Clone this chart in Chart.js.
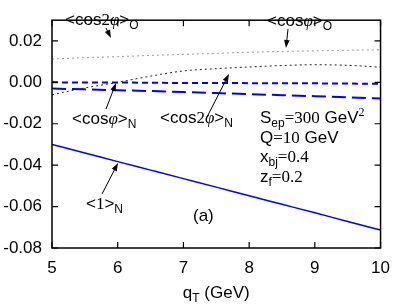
<!DOCTYPE html>
<html>
<head>
<meta charset="utf-8">
<script src="https://cdn.jsdelivr.net/npm/chart.js@4"></script>
<style>
  html, body { margin: 0; padding: 0; background: #fff; }
  #wrap { width: 400px; height: 304px; }
</style>
</head>
<body>
<div id="wrap"><canvas id="c"></canvas></div>
<script>
// q_T values (GeV) and the curves
const qT = [5, 5.5, 6, 6.5, 7, 7.5, 8, 8.5, 9, 9.5, 10];
const one_N     = [-0.0300, -0.0341, -0.0383, -0.0424, -0.0465, -0.0506, -0.0548, -0.0589, -0.0630, -0.0672, -0.0713];
const cos2phi_N = [-0.0030, -0.0034, -0.0038, -0.0042, -0.0047, -0.0052, -0.0057, -0.0062, -0.0067, -0.0072, -0.0078];
const cosphi_N  = [0.0000, -0.0001, -0.0001, -0.0002, -0.0003, -0.0003, -0.0004, -0.0005, -0.0005, -0.0006, -0.0007];
const cos2phi_O = [0.0113, 0.0119, 0.0124, 0.0130, 0.0135, 0.0140, 0.0145, 0.0149, 0.0152, 0.0155, 0.0157];
const cosphi_O  = [-0.0060, -0.0027, 0.0000, 0.0030, 0.0055, 0.0066, 0.0074, 0.0081, 0.0085, 0.0082, 0.0073];

const xTicks = [5, 6, 7, 8, 9, 10];
const yTicks = [-0.08, -0.06, -0.04, -0.02, 0.00, 0.02];

const SANS = 'Liberation Sans, Arial, sans-serif';
const SERIF = 'Liberation Serif, Times New Roman, serif';

const pts = ys => qT.map((x, i) => ({ x: x, y: ys[i] }));

// draw a run of text pieces, left to right from (x, y baseline)
function rich(ctx, x, y, segs) {
  segs.forEach(s => {
    const size = s.sub || s.sup ? 12 : 17;
    ctx.font = (s.it ? 'italic ' : '') + size + 'px ' + (s.serif ? SERIF : SANS);
    const dy = s.sub ? 4 : (s.sup ? -7 : 0);
    ctx.fillText(s.t, x, y + dy);
    x += ctx.measureText(s.t).width;
  });
  return x;
}
function richWidth(ctx, segs) {
  let w = 0;
  segs.forEach(s => {
    const size = s.sub || s.sup ? 12 : 17;
    ctx.font = (s.it ? 'italic ' : '') + size + 'px ' + (s.serif ? SERIF : SANS);
    w += ctx.measureText(s.t).width;
  });
  return w;
}

function arrow(ctx, x1, y1, x2, y2) {
  const a = Math.atan2(y2 - y1, x2 - x1);
  ctx.beginPath();
  ctx.moveTo(x1, y1);
  ctx.lineTo(x2 - 5 * Math.cos(a), y2 - 5 * Math.sin(a));
  ctx.stroke();
  ctx.beginPath();
  ctx.moveTo(x2, y2);
  ctx.lineTo(x2 - 8 * Math.cos(a) + 2.8 * Math.sin(a), y2 - 8 * Math.sin(a) - 2.8 * Math.cos(a));
  ctx.lineTo(x2 - 8 * Math.cos(a) - 2.8 * Math.sin(a), y2 - 8 * Math.sin(a) + 2.8 * Math.cos(a));
  ctx.closePath();
  ctx.fill();
}

const frame = {
  id: 'frame',
  afterDraw(chart) {
    const ctx = chart.ctx, a = chart.chartArea;
    const xs = chart.scales.x, ys = chart.scales.y;
    ctx.save();
    ctx.strokeStyle = '#000';
    ctx.fillStyle = '#000';
    ctx.lineWidth = 1.5;
    ctx.strokeRect(a.left, a.top, a.right - a.left, a.bottom - a.top);
    ctx.lineWidth = 1.2;
    ctx.beginPath();
    xTicks.forEach(v => {
      const px = xs.getPixelForValue(v);
      ctx.moveTo(px, a.bottom); ctx.lineTo(px, a.bottom - 6);
      ctx.moveTo(px, a.top); ctx.lineTo(px, a.top + 6);
    });
    yTicks.forEach(v => {
      const py = ys.getPixelForValue(v);
      ctx.moveTo(a.left, py); ctx.lineTo(a.left + 6, py);
      ctx.moveTo(a.right, py); ctx.lineTo(a.right - 6, py);
    });
    ctx.stroke();

    ctx.textBaseline = 'alphabetic';
    ctx.textAlign = 'left';
    // curve labels
    rich(ctx, 65, 25, [{t: '<cos'}, {t: '2', serif: true}, {t: 'φ', serif: true, it: true}, {t: '>'}, {t: 'O', sub: true}]);
    rich(ctx, 267, 26, [{t: '<cos'}, {t: 'φ', serif: true, it: true}, {t: '>'}, {t: 'O', sub: true}]);
    rich(ctx, 72, 124, [{t: '<cos'}, {t: 'φ', serif: true, it: true}, {t: '>'}, {t: 'N', sub: true}]);
    rich(ctx, 160, 123, [{t: '<cos'}, {t: '2', serif: true}, {t: 'φ', serif: true, it: true}, {t: '>'}, {t: 'N', sub: true}]);
    rich(ctx, 86, 209, [{t: '<'}, {t: '1', serif: true}, {t: '>'}, {t: 'N', sub: true}]);
    rich(ctx, 193, 221, [{t: '(a)'}]);

    // kinematics
    rich(ctx, 260, 123, [{t: 'S'}, {t: 'ep', sub: true}, {t: '=300', serif: true}, {t: ' GeV'}, {t: '2', sup: true, serif: true}]);
    rich(ctx, 260, 143, [{t: 'Q'}, {t: '=10', serif: true}, {t: ' GeV'}]);
    rich(ctx, 260, 162, [{t: 'x'}, {t: 'bj', sub: true}, {t: '=0.4', serif: true}]);
    rich(ctx, 260, 182, [{t: 'z'}, {t: 'f', sub: true}, {t: '=0.2', serif: true}]);

    // x axis title
    const title = [{t: 'q'}, {t: 'T', sub: true}, {t: ' (GeV)'}];
    const cx = (a.left + a.right) / 2;
    rich(ctx, cx - richWidth(ctx, title) / 2, 298, title);

    // arrows
    ctx.lineWidth = 1;
    arrow(ctx, 106, 28, 111, 38);
    arrow(ctx, 288, 29, 286, 48);
    arrow(ctx, 106, 109, 116, 83);
    arrow(ctx, 207, 117, 229, 74);
    arrow(ctx, 102, 194, 118, 163);
    ctx.restore();
  }
};

new Chart(document.getElementById('c'), {
  type: 'line',
  data: {
    datasets: [
      { data: pts(one_N), borderColor: '#0000ff', borderWidth: 1.5 },
      { data: pts(cos2phi_N), borderColor: '#0000ff', borderWidth: 2, borderDash: [14, 6] },
      { data: pts(cosphi_N), borderColor: '#0000ff', borderWidth: 2, borderDash: [6, 4] },
      { data: pts(cos2phi_O), borderColor: '#999999', borderWidth: 1, borderDash: [2, 3] },
      { data: pts(cosphi_O), borderColor: '#222222', borderWidth: 1, borderDash: [2, 3] }
    ]
  },
  options: {
    responsive: true,
    maintainAspectRatio: false,
    animation: false,
    events: [],
    elements: {
      point: { radius: 0 },
      line: { tension: 0.4, cubicInterpolationMode: 'monotone', fill: false }
    },
    layout: { padding: { left: 0, right: 13, top: 3, bottom: 0 } },
    plugins: { legend: { display: false }, tooltip: { enabled: false } },
    scales: {
      x: {
        type: 'linear', min: 5, max: 10,
        grid: { display: false, drawTicks: false }, border: { display: false },
        afterBuildTicks: s => { s.ticks = xTicks.map(v => ({ value: v })); },
        afterFit: s => { s.height = 56; },
        ticks: { padding: 10, color: '#000', maxRotation: 0, font: { family: SANS, size: 17 } }
      },
      y: {
        min: -0.08, max: 0.03,
        grid: { display: false, drawTicks: false }, border: { display: false },
        afterBuildTicks: s => { s.ticks = yTicks.map(v => ({ value: v })); },
        afterFit: s => { s.width = 52; },
        ticks: { padding: 10, color: '#000', font: { family: SANS, size: 17 }, callback: v => v.toFixed(2) }
      }
    }
  },
  plugins: [frame]
});
</script>
</body>
</html>
